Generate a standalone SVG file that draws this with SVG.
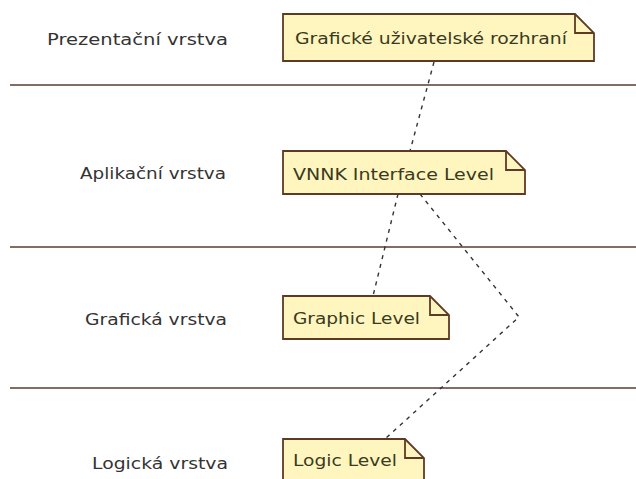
<svg xmlns="http://www.w3.org/2000/svg" width="636" height="479" viewBox="0 0 636 479">
<style>
.sep{stroke:#5a3b30;stroke-width:1.5;fill:none}
.note{fill:#fff6bf;stroke:#5e3a24;stroke-width:1.8;stroke-linejoin:miter}
.fold{fill:none;stroke:#5e3a24;stroke-width:1.8}
.lbl{font-family:"DejaVu Sans","Liberation Sans",sans-serif;font-size:16.5px;fill:#333333}
.ntxt{font-family:"DejaVu Sans","Liberation Sans",sans-serif;font-size:16.5px;fill:#3a3a22}
.dep{stroke:#333333;stroke-width:1.4;stroke-dasharray:4 5;fill:none}
</style>
<rect x="0" y="0" width="636" height="479" fill="#ffffff"/>
<g id="swimlanes">
<line class="sep" x1="10" y1="85" x2="636" y2="85"/>
<line class="sep" x1="10" y1="247" x2="636" y2="247"/>
<line class="sep" x1="10" y1="388" x2="636" y2="388"/>
<text class="lbl" x="47" y="45" textLength="181" lengthAdjust="spacingAndGlyphs">Prezentační vrstva</text>
<text class="lbl" x="80" y="179" textLength="146" lengthAdjust="spacingAndGlyphs">Aplikační vrstva</text>
<text class="lbl" x="85" y="325" textLength="142" lengthAdjust="spacingAndGlyphs">Grafická vrstva</text>
<text class="lbl" x="92" y="469" textLength="136" lengthAdjust="spacingAndGlyphs">Logická vrstva</text>
</g>
<g id="connectors">
<line class="dep" x1="434" y1="62" x2="410" y2="151"/>
<line class="dep" x1="398" y1="194" x2="373" y2="296"/>
<polyline class="dep" points="420,194 519,317 385,439"/>
</g>
<g id="note-gui">
<path class="note" d="M283,14 H575 L594,33 V61 H283 Z"/>
<path class="fold" d="M575,14 V33 H594"/>
<text class="ntxt" x="295" y="44" textLength="272" lengthAdjust="spacingAndGlyphs">Grafické uživatelské rozhraní</text>
</g>
<g id="note-vnnk">
<path class="note" d="M283,151 H506 L525,170 V194 H283 Z"/>
<path class="fold" d="M506,151 V170 H525"/>
<text class="ntxt" x="293" y="180" textLength="201" lengthAdjust="spacingAndGlyphs">VNNK Interface Level</text>
</g>
<g id="note-graphic">
<path class="note" d="M283,296 H430 L449,315 V339 H283 Z"/>
<path class="fold" d="M430,296 V315 H449"/>
<text class="ntxt" x="293" y="324" textLength="127" lengthAdjust="spacingAndGlyphs">Graphic Level</text>
</g>
<g id="note-logic">
<path class="note" d="M283,439 H405 L424,458 V482 H283 Z"/>
<path class="fold" d="M405,439 V458 H424"/>
<text class="ntxt" x="293" y="466" textLength="104" lengthAdjust="spacingAndGlyphs">Logic Level</text>
</g>
</svg>
